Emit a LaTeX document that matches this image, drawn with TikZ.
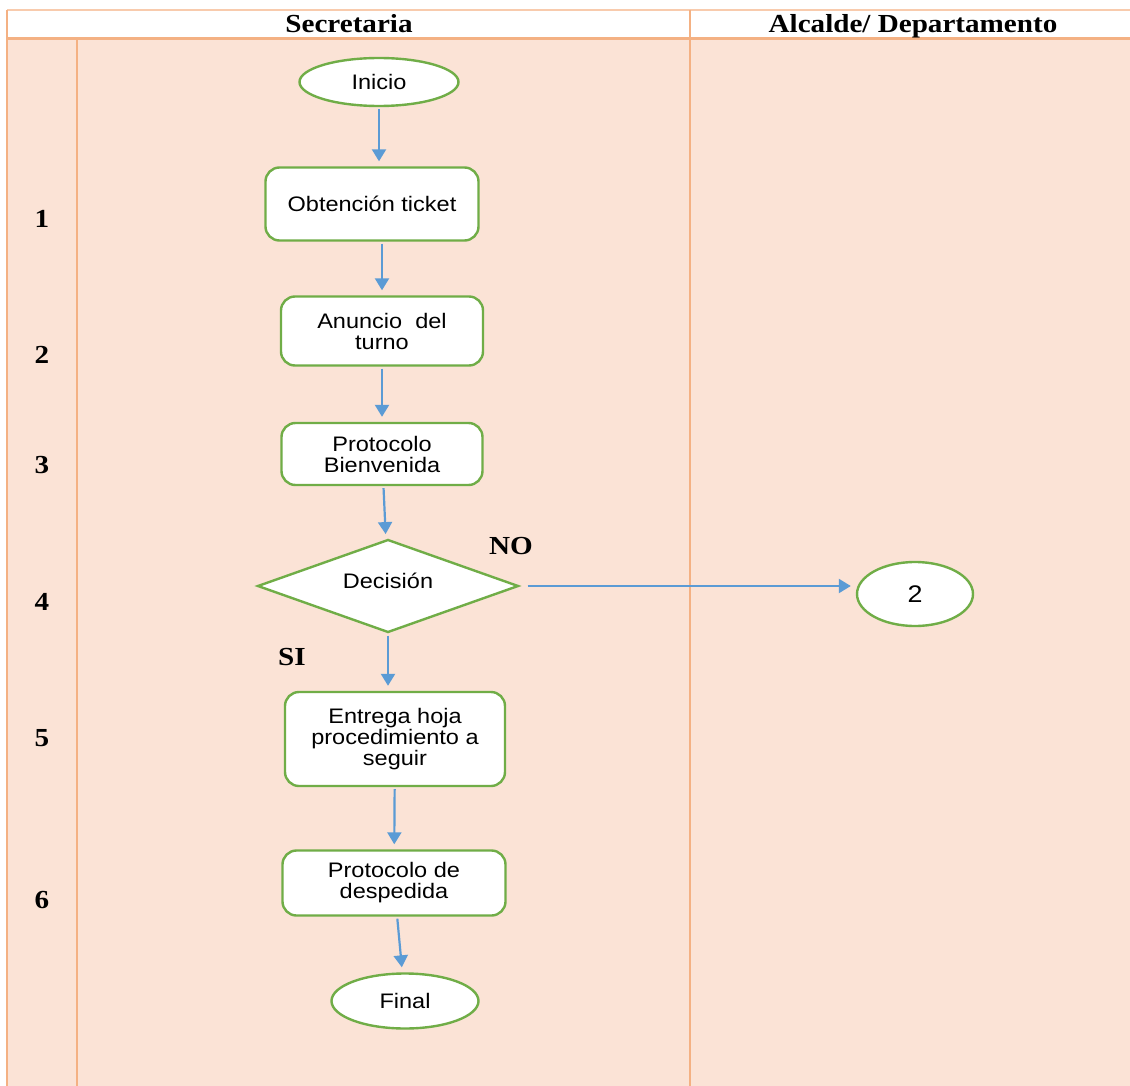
\documentclass[tikz,border=0pt]{standalone}
\usepackage{fontspec}
\setmainfont[FakeStretch=1.12]{Liberation Serif}
\newfontfamily\boxfont[FakeStretch=1.12]{Liberation Sans}
\usetikzlibrary{shapes.geometric,arrows.meta}
\definecolor{lanefill}{HTML}{FBE3D6}
\definecolor{laneline}{HTML}{F4B183}
\definecolor{lanetop}{HTML}{F8CBAD}
\definecolor{boxgreen}{HTML}{70AD47}
\definecolor{flowblue}{HTML}{5B9BD5}
\tikzset{
  paso/.style={draw=boxgreen, line width=1.2pt, fill=white, rounded corners=7pt, align=center, inner sep=0pt, font=\boxfont\fontsize{10.5}{10.5}\selectfont},
  terminal/.style={ellipse, draw=boxgreen, line width=1.2pt, fill=white, inner sep=0pt, font=\boxfont\fontsize{10.5}{10.5}\selectfont},
  decision/.style={diamond, draw=boxgreen, line width=1.2pt, fill=white, inner sep=0pt, font=\boxfont\fontsize{10.5}{10.5}\selectfont},
  flecha/.style={-{Triangle[length=6pt,width=7pt]}, flowblue, line width=1.1pt, shorten <=1pt, shorten >=2.5pt},
  rotulo/.style={font=\bfseries\fontsize{13}{13}\selectfont}
}
\begin{document}
\begin{tikzpicture}[x=0.5pt,y=-0.5pt]
  \useasboundingbox (0,0) rectangle (1130,1086);
  \fill[lanefill] (7,39) rectangle (1130,1086);
  \draw[lanetop, line width=1pt] (7,10) -- (1130,10);
  \draw[laneline, line width=1.5pt] (7,39) -- (1130,39);
  \draw[laneline, line width=1pt] (7,10) -- (7,1086);
  \draw[laneline, line width=1pt] (77,39) -- (77,1086);
  \draw[laneline, line width=1pt] (690,10) -- (690,1086);
  \node[rotulo, anchor=base] (secretaria) at (349,33) {Secretaria};
  \node[rotulo, anchor=base] (alcalde) at (913,33) {Alcalde/ Departamento};
  \foreach \n/\y in {1/219,2/355,3/465,4/602,5/738,6/900}
    \node[rotulo] (num\n) at (42,\y) {\n};
  \node[terminal, minimum width=79.5pt, minimum height=24pt] (inicio) at (379,82) {Inicio};
  \node[paso, minimum width=106.5pt, minimum height=36.5pt] (obtencion) at (372,204) {Obtención ticket};
  \node[paso, minimum width=101pt, minimum height=34.5pt] (anuncio) at (382,331) {Anuncio\ \ del\\turno};
  \node[paso, minimum width=100.5pt, minimum height=31pt] (bienvenida) at (382,454) {Protocolo\\Bienvenida};
  \node[decision, minimum width=130.5pt, minimum height=46.5pt] (decision) at (388,586) {\raisebox{-1pt}[0pt][0pt]{Decisión}};
  \node[paso, minimum width=110pt, minimum height=47pt] (entrega) at (395,739) {Entrega hoja\\procedimiento a\\seguir};
  \node[paso, minimum width=111.5pt, minimum height=32.5pt] (despedida) at (394,883) {Protocolo de\\despedida};
  \node[terminal, minimum width=73.5pt, minimum height=27.5pt] (final) at (405,1001) {Final};
  \node[terminal, minimum width=58pt, minimum height=32pt, font=\boxfont\fontsize{12}{12}\selectfont] (dos) at (915,594) {2};
  \node[rotulo] (no) at (511,546) {NO};
  \node[rotulo] (si) at (292,657) {SI};
  \draw[flecha] (inicio) -- (inicio |- obtencion.north);
  \draw[flecha] (anuncio |- obtencion.south) -- (anuncio);
  \draw[flecha] (anuncio) -- (bienvenida);
  \draw[flecha] (bienvenida) -- (decision);
  \draw[flecha] (decision) -- (decision |- entrega.north);
  \draw[flecha] (entrega) -- (despedida);
  \draw[flecha] (despedida) -- (final);
  \draw[flecha, shorten <=4pt] (decision.east) -- (decision.east -| dos.west);
\end{tikzpicture}
\end{document}
